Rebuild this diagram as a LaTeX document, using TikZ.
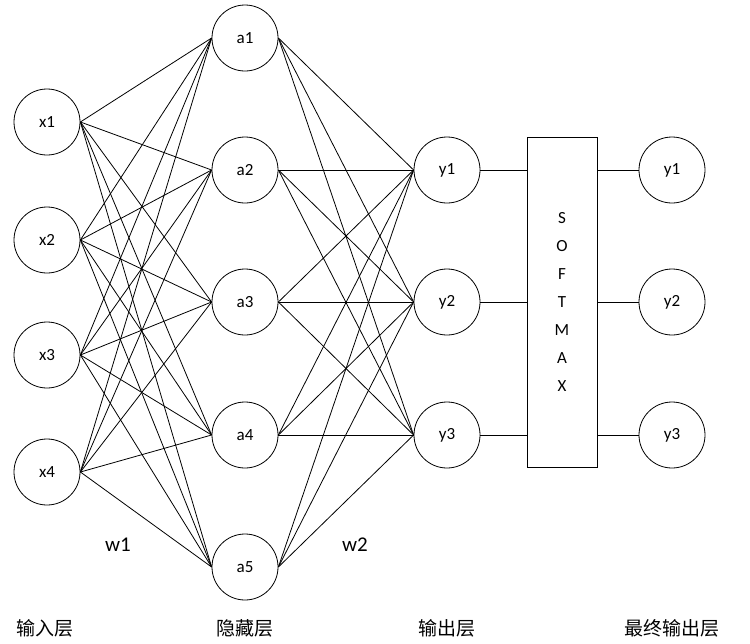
\documentclass[tikz,border=0pt]{standalone}
\usepackage{fontspec}
\setmainfont{Carlito}
\newfontfamily\cjk{Noto Sans CJK SC}
\begin{document}
\begin{tikzpicture}[x=1pt,y=-1pt,
  neu/.style={circle,draw,thick,minimum size=66pt,inner sep=0pt,font=\fontsize{17}{20}\selectfont},
  ln/.style={thick},
  lab/.style={font=\cjk\fontsize{19}{22}\selectfont},
  wl/.style={font=\fontsize{21}{24}\selectfont}]
\useasboundingbox (0,0) rectangle (750,643);
\foreach \i/\y in {1/122,2/240,3/355,4/472} \node[neu] (x\i) at (47,\y) {x\i};
\foreach \i/\y in {1/38,2/170,3/302,4/435,5/567} \node[neu] (a\i) at (245,\y) {a\i};
\foreach \i/\y in {1/170,2/302,3/435} \node[neu] (y\i) at (447,\y) {y\i};
\foreach \i/\y in {1/170,2/302,3/435} \node[neu] (f\i) at (672,\y) {y\i};
\node[draw,thick,minimum width=70pt,minimum height=330pt,inner sep=0pt,align=center,font=\fontsize{17}{28}\selectfont] (sm) at (562,302) {S\\O\\F\\T\\M\\A\\X};
\foreach \i in {1,...,4} \foreach \j in {1,...,5} \draw[ln] (x\i.east) -- (a\j.west);
\foreach \i in {1,...,5} \foreach \j in {1,...,3} \draw[ln] (a\i.east) -- (y\j.west);
\foreach \j in {1,...,3} {
  \draw[ln] (y\j.east) -- (y\j.east -| sm.west);
  \draw[ln] (f\j.west -| sm.east) -- (f\j.west);
}
\node[wl] (w1) at (118,545) {w1};
\node[wl] (w2) at (355,545) {w2};
\node[lab] (l1) at (45,628) {输入层};
\node[lab] (l2) at (245,628) {隐藏层};
\node[lab] (l3) at (447,628) {输出层};
\node[lab] (l4) at (672,628) {最终输出层};
\end{tikzpicture}
\end{document}
